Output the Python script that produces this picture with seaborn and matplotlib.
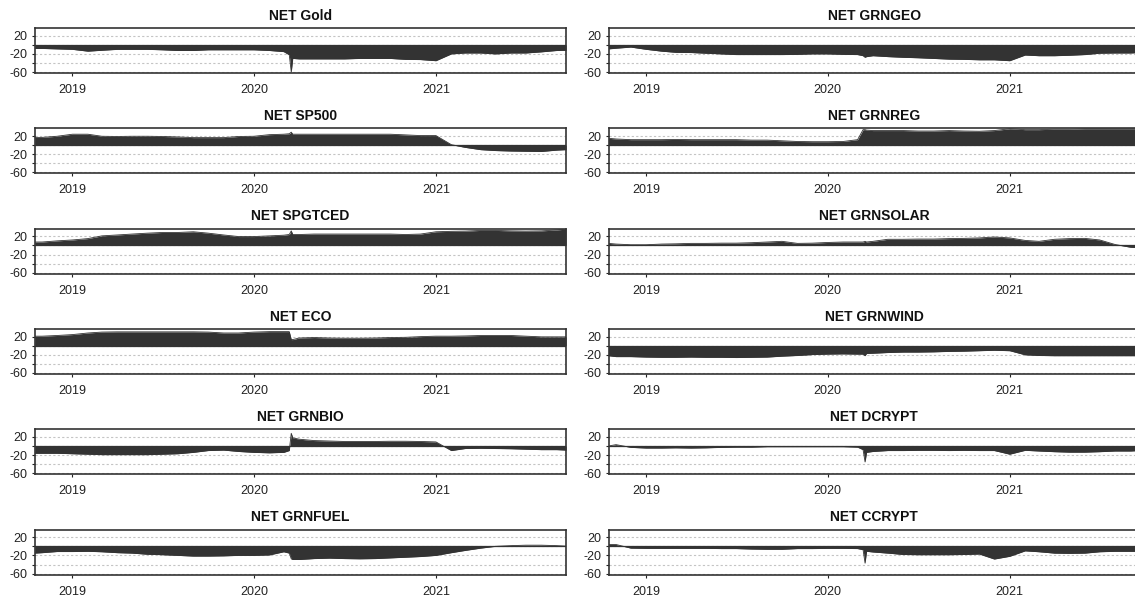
import numpy as np
import pandas as pd
import seaborn as sns
import matplotlib
matplotlib.use("Agg")
import matplotlib.pyplot as plt
import matplotlib.dates as mdates

# observation dates (monthly, with extra points around the March 2020 shock)
dates = pd.to_datetime([
    "2018-10-17", "2018-11-01", "2018-12-01", "2019-01-01", "2019-02-01",
    "2019-03-01", "2019-04-01", "2019-05-01", "2019-06-01", "2019-07-01",
    "2019-08-01", "2019-09-01", "2019-10-01", "2019-11-01", "2019-12-01",
    "2020-01-01", "2020-02-01", "2020-03-01", "2020-03-12", "2020-03-16",
    "2020-03-19", "2020-04-01", "2020-05-01", "2020-06-01", "2020-07-01",
    "2020-08-01", "2020-09-01", "2020-10-01", "2020-11-01", "2020-12-01",
    "2021-01-01", "2021-02-01", "2021-03-01", "2021-04-01", "2021-05-01",
    "2021-06-01", "2021-07-01", "2021-08-01", "2021-09-01", "2021-09-20",
])

gold = [-8, -8, -9, -10, -14, -12, -10, -10, -10, -11,
        -12.5, -12.5, -11, -11, -11, -11, -12.5, -15, -22, -60,
        -30, -31, -31, -31, -31, -30, -30, -30, -32, -32.5,
        -35, -20, -18, -18, -20, -18, -18, -15.5, -12.5, -12]
sp500 = [17, 17, 19.5, 24, 24, 19.5, 19, 19.5, 19.5, 19,
         18, 16.5, 16.5, 16.5, 19, 19.5, 23, 24, 25, 28.5,
         24, 24, 24, 24, 24, 24, 24, 24, 22.5, 21,
         21, 1, -5, -10, -12, -13, -13.5, -14, -11, -10]
spgtced = [7.5, 7.5, 10, 12, 15, 21, 23, 25, 27, 28.5,
           28.5, 30, 27, 23, 19.5, 19.5, 21, 22.5, 24, 32,
           24, 24, 25, 25, 25, 25, 25, 25, 24, 25,
           30, 31, 31.5, 33, 33, 32, 31.5, 32, 34, 36]
eco = [21, 21, 22.5, 24.5, 28, 30, 30.5, 30.5, 30.5, 30.5,
       30.5, 30.5, 30, 28, 28, 30, 31, 31, 31, 13.5,
       13.5, 17, 18, 17, 16.5, 16.5, 17, 18, 18.5, 20,
       21, 21, 21.5, 22.5, 22.5, 22.5, 21, 19.5, 19.5, 19.5]
grnbio = [-16, -16, -16, -17, -18, -19, -19, -19, -19, -18,
          -17, -14, -10, -9, -12, -14, -15, -14, -10, 28,
          18, 15, 12, 11, 10, 10, 10, 10.5, 10.5, 10,
          9, -10, -5.5, -5, -5.5, -6, -7, -8, -8, -9]
grnfuel = [-15, -14, -11.5, -11.5, -11, -12, -14, -15, -17.5, -18.5,
           -20, -21.5, -21.5, -21, -20, -20, -19, -12, -15, -27.5,
           -29, -29, -27, -26, -27, -27.5, -27, -25.5, -24, -22.5,
           -20, -14, -9, -4, 0, 1.5, 2.5, 2.5, 1.5, 0.5]
grngeo = [-9, -7.5, -5, -10, -14, -16.5, -17, -18.5, -20, -21.5,
          -21.5, -21.5, -21.5, -21, -20, -20, -21, -21.5, -24, -27.5,
          -26, -24, -26, -27.5, -28.5, -30, -31.5, -32, -33, -33,
          -35, -22.5, -24, -24, -23, -21.5, -18.5, -18, -18, -17]
grnreg = [15, 13.5, 12, 12, 12, 12.5, 12, 12, 12, 12,
          11, 11, 9.5, 8, 7.5, 7.5, 8, 12, 34, 34,
          33, 32, 32, 32, 31, 31, 32, 31, 30.5, 32,
          36, 34, 34, 35, 35, 36, 36, 36, 36, 36]
grnsolar = [4.5, 3, 1.5, 1.5, 3, 3.5, 4.5, 4.5, 5, 5,
            6, 7.5, 9, 4.5, 5, 6.5, 7.5, 7.5, 7.5, 9,
            7.5, 9, 13.5, 13.5, 14, 14, 15, 15.5, 16.5, 18.5,
            16.5, 11, 9, 13.5, 15, 15.5, 12, 2, -4, -5]
grnwind = [-22, -24, -24, -25, -25.5, -25.5, -25, -25.5, -25.5, -26,
           -25.5, -25, -23, -21.5, -19.5, -18.5, -18, -18.5, -18.5, -22,
           -17, -16.5, -15, -14, -14, -13.5, -12.5, -12, -11, -10,
           -11, -20, -21.5, -22, -22, -22, -22, -22, -22, -22]
dcrypt = [0, 3, -3, -4.5, -4.5, -4, -4.5, -4, -3, -2.5,
          -2.5, -1.5, -1.5, -1.5, -1.5, -1.5, -1.5, -2.5, -8, -35,
          -14, -12, -10, -10, -9.5, -9.5, -10, -9.5, -10, -10,
          -18, -9.5, -11, -12.5, -13.5, -13.5, -12.5, -11, -11, -10]
ccrypt = [4, 4, -4, -4.5, -4.5, -4.5, -4.5, -4.5, -5, -5,
          -6, -6.5, -6.5, -5, -5, -4.5, -4.5, -5, -7.5, -37,
          -11, -12.5, -15, -18, -18.5, -18.5, -18.5, -18, -17, -28,
          -22, -10, -12, -15, -15.5, -15, -12, -11, -11, -11]

left_panels = [("NET Gold", gold), ("NET SP500", sp500), ("NET SPGTCED", spgtced),
               ("NET ECO", eco), ("NET GRNBIO", grnbio), ("NET GRNFUEL", grnfuel)]
right_panels = [("NET GRNGEO", grngeo), ("NET GRNREG", grnreg), ("NET GRNSOLAR", grnsolar),
                ("NET GRNWIND", grnwind), ("NET DCRYPT", dcrypt), ("NET CCRYPT", ccrypt)]

sns.set_theme(style="white")
plt.rcParams["font.family"] = ["Liberation Sans", "DejaVu Sans"]

dark = "#333333"
W, H = 1135, 596
col_x = [34.7, 608.5]
pw, ph = 531.5, 45

fig = plt.figure(figsize=(W / 100, H / 100), dpi=100)

for c, panels in enumerate([left_panels, right_panels]):
    for r, (name, vals) in enumerate(panels):
        top = 28 + 100.3 * r
        ax = fig.add_axes([col_x[c] / W, 1 - (top + ph) / H, pw / W, ph / H])
        df = pd.DataFrame({"date": dates, "value": vals})
        ax.fill_between(df["date"], 0, df["value"], color=dark, lw=0, zorder=2)
        sns.lineplot(data=df, x="date", y="value", color=dark, lw=0.6, ax=ax, zorder=3)
        ax.axhline(0, color=dark, lw=0.9, zorder=3)

        ax.set_xlim(dates[0], dates[-1])
        ax.set_ylim(-62, 37)
        ax.set_yticks([20, 0, -20, -40, -60])
        ax.set_yticklabels(["20", "", "-20", "", "-60"])
        ax.yaxis.grid(True, linestyle=(0, (2, 2)), color="#c4c4c4", lw=0.8)
        ax.xaxis.grid(False)
        ax.set_axisbelow(True)

        ax.xaxis.set_major_locator(mdates.YearLocator())
        ax.xaxis.set_major_formatter(mdates.DateFormatter("%Y"))
        ax.set_xlabel("")
        ax.set_ylabel("")
        ax.set_title(name, fontsize=10, fontweight="bold", pad=6, color="#111111")

        for sp in ax.spines.values():
            sp.set_color(dark)
            sp.set_linewidth(1.2)
        ax.tick_params(axis="x", bottom=True, length=2, width=0.8, pad=6,
                       labelsize=9, colors="#222222")
        ax.tick_params(axis="y", left=True, length=2, width=0.8, pad=3,
                       labelsize=9, colors="#222222")

fig.savefig("out.png", dpi=100)
